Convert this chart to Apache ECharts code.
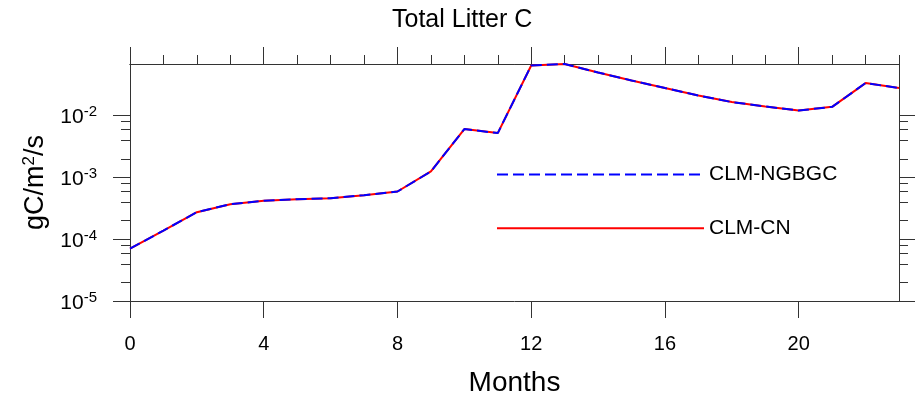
<!DOCTYPE html>
<html>
<head>
<meta charset="utf-8">
<script src="https://cdn.jsdelivr.net/npm/echarts@6/dist/echarts.min.js"></script>
<style>
  html, body { margin: 0; padding: 0; background: #fff; }
  #chart { width: 915px; height: 397px; }
</style>
</head>
<body>
<div id="chart"></div>
<script>
// months 0..23
const months = [0, 1, 2, 3, 4, 5, 6, 7, 8, 9, 10, 11, 12, 13, 14, 15, 16, 17, 18, 19, 20, 21, 22, 23]
// gC/m2/s
const cnValues = [
  7.05e-5, 1.38e-4, 2.74e-4, 3.69e-4, 4.18e-4, 4.45e-4, 4.62e-4, 5.17e-4,
  5.92e-4, 1.25e-3, 6.07e-3, 5.22e-3, 6.5e-2, 6.86e-2, 5.0e-2, 3.72e-2,
  2.8e-2, 2.12e-2, 1.66e-2, 1.41e-2, 1.21e-2, 1.39e-2, 3.37e-2, 2.8e-2,
]
const ngbgcValues = [
  7.05e-5, 1.38e-4, 2.74e-4, 3.69e-4, 4.18e-4, 4.45e-4, 4.62e-4, 5.17e-4,
  5.92e-4, 1.25e-3, 6.07e-3, 5.22e-3, 6.5e-2, 6.86e-2, 5.0e-2, 3.72e-2,
  2.8e-2, 2.12e-2, 1.66e-2, 1.41e-2, 1.21e-2, 1.39e-2, 3.37e-2, 2.8e-2,
]
const xMajor = [0, 4, 8, 12, 16, 20]
const xMinor = [1, 2, 3, 5, 6, 7, 9, 10, 11, 13, 14, 15, 17, 18, 19, 21, 22, 23]
const yMajor = [1e-5, 1e-4, 1e-3, 1e-2]
const yMinor = [2e-5, 4e-5, 6e-5, 8e-5, 2e-4, 4e-4, 6e-4, 8e-4, 2e-3, 4e-3, 6e-3, 8e-3]

const FONT = 'Liberation Sans'
const AXIS_COLOR = '#333'
const yMax = Math.max(...cnValues, ...ngbgcValues)

const chart = echarts.init(document.getElementById('chart'))

const lineStyle = { color: AXIS_COLOR, width: 1 }

const xAxisBase = (position, ticks, len, labels) => ({
  type: 'value',
  position: position,
  min: 0,
  max: 23,
  interval: 4,
  axisLine: { show: true, onZero: false, lineStyle: lineStyle },
  axisTick: { show: true, inside: false, length: len, customValues: ticks, lineStyle: lineStyle },
  axisLabel: labels
    ? { show: true, customValues: ticks, margin: 33, fontFamily: FONT, fontSize: 20, color: '#000' }
    : { show: false },
  splitLine: { show: false },
})

const yAxisBase = (position, ticks, len, labels) => ({
  type: 'log',
  logBase: 10,
  position: position,
  min: 1e-5,
  max: yMax,
  axisLine: { show: true, onZero: false, lineStyle: lineStyle },
  axisTick: { show: true, inside: false, length: len, customValues: ticks, lineStyle: lineStyle },
  axisLabel: labels
    ? {
        show: true,
        customValues: ticks,
        margin: 33,
        formatter: (v) => '{b|10}{sup|' + Math.round(Math.log10(v)) + '}',
        rich: {
          b: { fontFamily: FONT, fontSize: 21, color: '#000', lineHeight: 22, padding: [4, 0, 0, 0] },
          sup: { fontFamily: FONT, fontSize: 15, color: '#000', verticalAlign: 'top', lineHeight: 22 },
        },
      }
    : { show: false },
  splitLine: { show: false },
  minorTick: { show: false },
})

const option = {
  backgroundColor: '#fff',
  animation: false,
  title: {
    text: 'Total Litter C',
    left: 392,
    top: 8,
    padding: 0,
    textStyle: { fontFamily: FONT, fontSize: 25, fontWeight: 'normal', color: '#000' },
  },
  legend: {
    orient: 'vertical',
    left: 496,
    top: 164,
    padding: 0,
    itemWidth: 207,
    itemHeight: 21,
    itemGap: 32.7,
    data: ['CLM-NGBGC', 'CLM-CN'],
    itemStyle: { color: 'rgba(0,0,0,0)', borderWidth: 0, opacity: 0 },
    textStyle: { fontFamily: FONT, fontSize: 21, color: '#000', lineHeight: 21 },
  },
  grid: {
    left: 130,
    right: 16,
    top: 64,
    bottom: 96,
    containLabel: false,
    outerBoundsMode: 'none',
  },
  xAxis: [
    Object.assign(xAxisBase('bottom', xMajor, 17, true), {
      name: 'Months',
      nameLocation: 'middle',
      nameGap: 68,
      nameTextStyle: { fontFamily: FONT, fontSize: 28, color: '#000' },
    }),
    xAxisBase('top', xMajor, 17, false),
    xAxisBase('top', xMinor, 9, false),
  ],
  yAxis: [
    Object.assign(yAxisBase('left', yMajor, 17, true), {
      name: '{n|gC/m}{sup|2}{n|/s}',
      nameLocation: 'middle',
      nameRotate: 90,
      nameGap: 79,
      nameTextStyle: {
        rich: {
          n: { fontFamily: FONT, fontSize: 27, color: '#000', lineHeight: 30 },
          sup: { fontFamily: FONT, fontSize: 17, color: '#000', verticalAlign: 'top', lineHeight: 30 },
        },
      },
    }),
    yAxisBase('left', yMinor, 9, false),
    yAxisBase('right', yMajor, 17, false),
    yAxisBase('right', yMinor, 9, false),
  ],
  series: [
    {
      name: 'CLM-CN',
      type: 'line',
      symbol: 'none',
      data: months.map((m, i) => [m, cnValues[i]]),
      lineStyle: { color: '#ff0000', width: 2, type: 'solid' },
      itemStyle: { color: '#ff0000' },
      z: 2,
    },
    {
      name: 'CLM-NGBGC',
      type: 'line',
      symbol: 'none',
      data: months.map((m, i) => [m, ngbgcValues[i]]),
      lineStyle: { color: '#0000ff', width: 2, type: [11, 5] },
      itemStyle: { color: '#0000ff' },
      z: 3,
    },
  ],
}

chart.setOption(option)
</script>
</body>
</html>
